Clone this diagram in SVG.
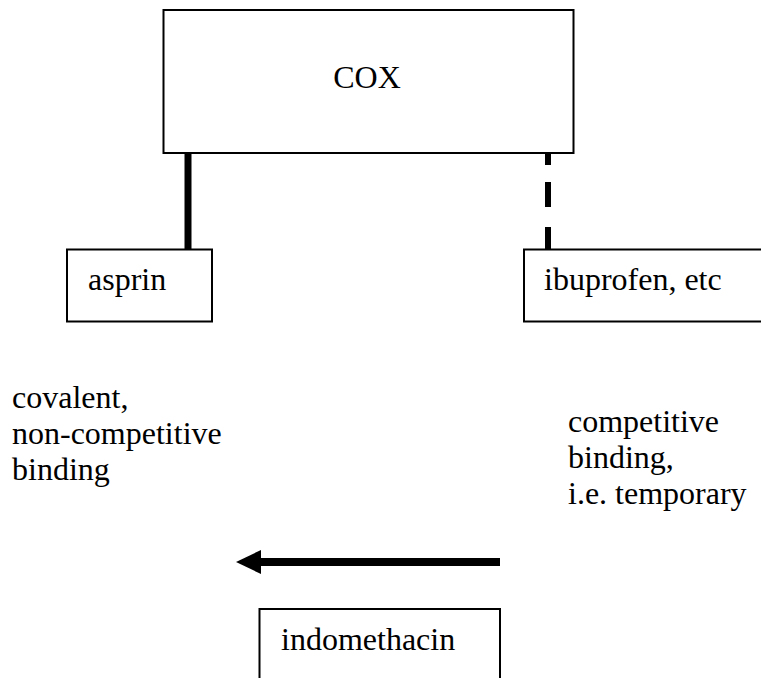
<svg xmlns="http://www.w3.org/2000/svg" width="761" height="678" viewBox="0 0 761 678">
<style>
.box{fill:#fff;stroke:#000;stroke-width:2}
text{font-family:'Liberation Serif','Times New Roman','DejaVu Serif',serif;font-size:32px;fill:#000}
</style>
<rect width="761" height="678" fill="#fff"/>
<g id="connectors">
<line x1="188" y1="153" x2="188" y2="249" stroke="#000" stroke-width="7"/>
<line x1="548" y1="154" x2="548" y2="249" stroke="#000" stroke-width="6" stroke-dasharray="11,17,25,20,25,20"/>
<line x1="500" y1="562" x2="258" y2="562" stroke="#000" stroke-width="8"/>
<path d="M236,562 L261,550 L261,574 Z" fill="#000"/>
</g>
<g id="cox">
<rect class="box" x="163.5" y="10" width="410" height="143"/>
<text x="367" y="88" text-anchor="middle">COX</text>
</g>
<g id="asprin">
<rect class="box" x="67" y="249.5" width="145" height="72"/>
<text x="88" y="290">asprin</text>
</g>
<g id="ibuprofen">
<rect class="box" x="524" y="249.5" width="250" height="72"/>
<text x="544" y="290">ibuprofen, etc</text>
</g>
<g id="indomethacin">
<rect class="box" x="259.5" y="609" width="240.5" height="80"/>
<text x="281" y="650">indomethacin</text>
</g>
<g id="left-note">
<text x="12" y="408">covalent,</text>
<text x="12" y="444">non-competitive</text>
<text x="12" y="480">binding</text>
</g>
<g id="right-note">
<text x="568" y="432">competitive</text>
<text x="568" y="468">binding,</text>
<text x="568" y="504">i.e. temporary</text>
</g>
</svg>
